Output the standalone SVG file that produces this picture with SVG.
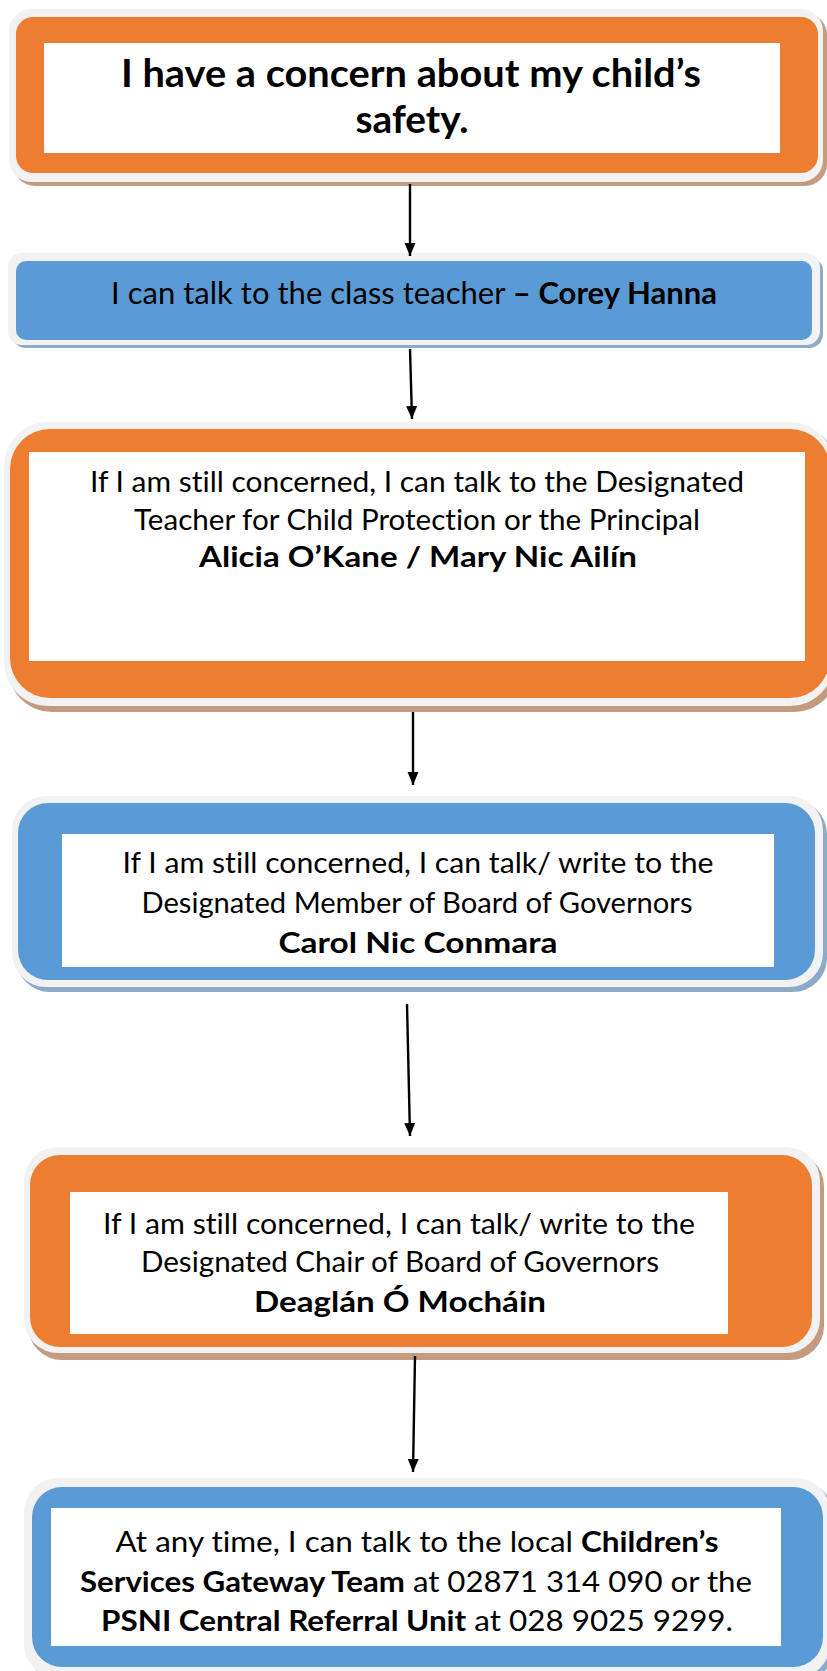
<svg xmlns="http://www.w3.org/2000/svg" width="827" height="1671" viewBox="0 0 827 1671">
<defs>
<style>
.halo{fill:#f2f2f2}
.shO{fill:#c59b80}
.shB{fill:#8eaac9}
.or{fill:#ed7d31}
.bl{fill:#5b9bd5}
.pn{fill:#ffffff}
text{font-family:Lato,"Noto Sans","Liberation Sans",sans-serif;fill:#000;text-anchor:middle;font-variant-ligatures:none;font-feature-settings:"liga" 0}
.r{font-weight:400}
.b{font-weight:700}
.con{stroke:#000;stroke-width:2.4;fill:none}
</style>
<marker id="ah" markerUnits="userSpaceOnUse" markerWidth="14" markerHeight="14" viewBox="0 0 14 14" refX="13" refY="7" orient="auto">
<path d="M0,1.5 L13,7 L0,12.5 Z" fill="#000"/>
</marker>
</defs>
<rect width="827" height="1671" fill="#ffffff"/>

<g id="node1">
<rect class="shO" x="13" y="13" width="814" height="173" rx="22"/>
<rect class="halo" x="9" y="9" width="814" height="173" rx="22"/>
<rect class="or" x="16" y="17" width="802" height="156" rx="17"/>
<rect class="pn" x="44" y="43" width="736" height="110"/>
<text class="b" x="411" y="87" font-size="39" textLength="580" lengthAdjust="spacingAndGlyphs">I have a concern about my child’s</text>
<text class="b" x="412" y="133" font-size="39" textLength="113" lengthAdjust="spacingAndGlyphs">safety.</text>
</g>

<g id="node2">
<rect class="shB" x="12" y="257" width="811" height="91" rx="14"/>
<rect class="halo" x="8" y="253" width="812" height="92" rx="14"/>
<rect class="bl" x="16" y="261" width="796" height="79" rx="10"/>
<text x="414" y="304" font-size="30" textLength="606" lengthAdjust="spacingAndGlyphs"><tspan class="r">I can talk to the class teacher </tspan><tspan class="b">– Corey Hanna</tspan></text>
</g>

<g id="node3">
<rect class="shO" x="8" y="426" width="830" height="286" rx="44"/>
<rect class="halo" x="4" y="422" width="830" height="284" rx="44"/>
<rect class="or" x="10" y="429" width="820" height="269" rx="40"/>
<rect class="pn" x="29" y="452" width="776" height="209"/>
<text class="r" x="417" y="492" font-size="28" textLength="654" lengthAdjust="spacingAndGlyphs">If I am still concerned, I can talk to the Designated</text>
<text class="r" x="417" y="530" font-size="28" textLength="566" lengthAdjust="spacingAndGlyphs">Teacher for Child Protection or the Principal</text>
<text class="b" x="418" y="567" font-size="28" textLength="438" lengthAdjust="spacingAndGlyphs">Alicia O’Kane / Mary Nic Ailín</text>
</g>

<g id="node4">
<rect class="shB" x="16" y="800" width="811" height="192" rx="34"/>
<rect class="halo" x="12" y="796" width="811" height="191" rx="34"/>
<rect class="bl" x="18" y="803" width="797" height="177" rx="30"/>
<rect class="pn" x="62" y="834" width="712" height="133"/>
<text class="r" x="418" y="873" font-size="29" textLength="591" lengthAdjust="spacingAndGlyphs">If I am still concerned, I can talk/ write to the</text>
<text class="r" x="417" y="913" font-size="29" textLength="551" lengthAdjust="spacingAndGlyphs">Designated Member of Board of Governors</text>
<text class="b" x="418" y="953" font-size="29" textLength="279" lengthAdjust="spacingAndGlyphs">Carol Nic Conmara</text>
</g>

<g id="node5">
<rect class="shO" x="28" y="1152" width="796" height="208" rx="34"/>
<rect class="halo" x="24" y="1147" width="796" height="206" rx="34"/>
<rect class="or" x="30" y="1155" width="782" height="192" rx="30"/>
<rect class="pn" x="70" y="1192" width="658" height="142"/>
<text class="r" x="399" y="1234" font-size="29" textLength="592" lengthAdjust="spacingAndGlyphs">If I am still concerned, I can talk/ write to the</text>
<text class="r" x="400" y="1272" font-size="29" textLength="518" lengthAdjust="spacingAndGlyphs">Designated Chair of Board of Governors</text>
<text class="b" x="400" y="1312" font-size="29" textLength="292" lengthAdjust="spacingAndGlyphs">Deaglán Ó Mocháin</text>
</g>

<g id="node6">
<rect class="shB" x="28" y="1482" width="806" height="200" rx="34"/>
<rect class="halo" x="24" y="1478" width="806" height="200" rx="34"/>
<rect class="bl" x="32" y="1487" width="791" height="180" rx="30"/>
<rect class="pn" x="51" y="1508" width="730" height="138"/>
<text x="417" y="1552" font-size="29" textLength="603" lengthAdjust="spacingAndGlyphs"><tspan class="r">At any time, I can talk to the local </tspan><tspan class="b">Children’s</tspan></text>
<text x="416" y="1592" font-size="29" textLength="672" lengthAdjust="spacingAndGlyphs"><tspan class="b">Services Gateway Team</tspan><tspan class="r"> at 02871 314 090 or the</tspan></text>
<text x="417" y="1631" font-size="29" textLength="632" lengthAdjust="spacingAndGlyphs"><tspan class="b">PSNI Central Referral Unit</tspan><tspan class="r"> at 028 9025 9299.</tspan></text>
</g>

<g id="connectors">
<line class="con" x1="410" y1="184" x2="410" y2="256" marker-end="url(#ah)"/>
<line class="con" x1="410" y1="349" x2="412" y2="419" marker-end="url(#ah)"/>
<line class="con" x1="413" y1="712" x2="413" y2="785" marker-end="url(#ah)"/>
<line class="con" x1="407" y1="1004" x2="410" y2="1136" marker-end="url(#ah)"/>
<line class="con" x1="415" y1="1356" x2="413" y2="1472" marker-end="url(#ah)"/>
</g>
</svg>
